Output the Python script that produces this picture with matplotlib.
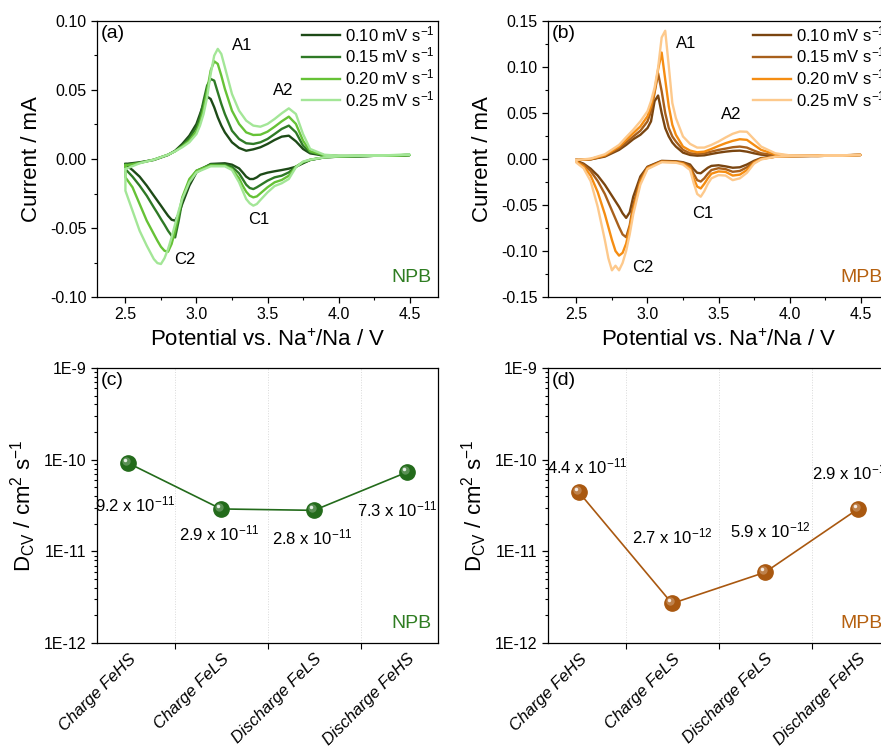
import numpy as np
import matplotlib
matplotlib.use("Agg")
import matplotlib.pyplot as plt
from matplotlib.ticker import FixedLocator, MultipleLocator, FormatStrFormatter, NullFormatter
from matplotlib.transforms import offset_copy

plt.rcParams['font.family'] = ['Liberation Sans', 'DejaVu Sans']
plt.rcParams['mathtext.fontset'] = 'custom'
plt.rcParams['mathtext.rm'] = 'Liberation Sans'
plt.rcParams['mathtext.it'] = 'Liberation Sans:italic'
plt.rcParams['mathtext.bf'] = 'Liberation Sans:bold'

# ---------------- data ----------------
rates = ['0.10', '0.15', '0.20', '0.25']

# anodic (forward) branch potentials, V
V_up = [2.5, 2.6, 2.7, 2.8, 2.85, 2.9, 2.95, 3.0, 3.025, 3.05, 3.075, 3.1, 3.125, 3.15, 3.175,
        3.2, 3.25, 3.3, 3.35, 3.4, 3.45, 3.5, 3.55, 3.6, 3.65, 3.7, 3.75, 3.8, 3.9, 4.0, 4.2, 4.5]
# cathodic (reverse) branch potentials, V
V_dn = [4.5, 4.2, 4.0, 3.9, 3.8, 3.75, 3.7, 3.65, 3.6, 3.55, 3.5, 3.45, 3.425, 3.4, 3.375, 3.35,
        3.325, 3.3, 3.25, 3.2, 3.1, 3.0, 2.95, 2.9, 2.875, 2.85, 2.825, 2.8, 2.775, 2.75, 2.725,
        2.7, 2.65, 2.6, 2.55, 2.5]

# NPB currents (mA)
npb_up_010 = [-0.0036, -0.0024, -0.0007, 0.0029, 0.0060, 0.0109, 0.0169, 0.0254, 0.0326, 0.0399, 0.0452,
              0.0435, 0.0375, 0.0302, 0.0242, 0.0193, 0.0121, 0.0080, 0.0060, 0.0070, 0.0085, 0.0109,
              0.0138, 0.0162, 0.0169, 0.0128, 0.0073, 0.0041, 0.0024, 0.0019, 0.0022, 0.0029]
npb_up_015 = [-0.0041, -0.0027, -0.0005, 0.0031, 0.0058, 0.0097, 0.0152, 0.0230, 0.0302, 0.0423, 0.0532,
              0.0580, 0.0568, 0.0483, 0.0399, 0.0326, 0.0205, 0.0145, 0.0114, 0.0109, 0.0121, 0.0145,
              0.0181, 0.0218, 0.0242, 0.0193, 0.0097, 0.0048, 0.0027, 0.0022, 0.0022, 0.0029]
npb_up_020 = [-0.0048, -0.0029, -0.0005, 0.0031, 0.0056, 0.0092, 0.0133, 0.0201, 0.0266, 0.0363, 0.0495,
              0.0641, 0.0708, 0.0689, 0.0604, 0.0508, 0.0350, 0.0254, 0.0193, 0.0174, 0.0176, 0.0198,
              0.0234, 0.0273, 0.0307, 0.0254, 0.0133, 0.0056, 0.0027, 0.0022, 0.0022, 0.0029]
npb_up_025 = [-0.0073, -0.0031, -0.0005, 0.0031, 0.0056, 0.0085, 0.0121, 0.0181, 0.0242, 0.0326, 0.0447,
              0.0616, 0.0749, 0.0798, 0.0761, 0.0665, 0.0471, 0.0350, 0.0278, 0.0242, 0.0234, 0.0254,
              0.0290, 0.0331, 0.0367, 0.0326, 0.0181, 0.0073, 0.0031, 0.0024, 0.0024, 0.0031]
npb_dn_010 = [0.0029, 0.0022, 0.0017, 0.0012, -0.0007, -0.0031, -0.0056, -0.0070, -0.0080, -0.0089, -0.0099,
              -0.0114, -0.0133, -0.0145, -0.0145, -0.0128, -0.0097, -0.0068, -0.0041, -0.0031, -0.0036,
              -0.0097, -0.0193, -0.0326, -0.0399, -0.0447, -0.0440, -0.0411, -0.0375, -0.0338, -0.0302,
              -0.0266, -0.0193, -0.0128, -0.0080, -0.0041]
npb_dn_015 = [0.0029, 0.0022, 0.0017, 0.0012, -0.0007, -0.0027, -0.0056, -0.0097, -0.0121, -0.0133, -0.0157,
              -0.0189, -0.0205, -0.0218, -0.0210, -0.0186, -0.0145, -0.0104, -0.0056, -0.0041, -0.0039,
              -0.0085, -0.0157, -0.0302, -0.0447, -0.0568, -0.0556, -0.0520, -0.0476, -0.0435, -0.0392,
              -0.0351, -0.0266, -0.0193, -0.0128, -0.0073]
npb_dn_020 = [0.0029, 0.0024, 0.0019, 0.0012, -0.0005, -0.0022, -0.0056, -0.0121, -0.0152, -0.0169, -0.0205,
              -0.0249, -0.0271, -0.0278, -0.0266, -0.0237, -0.0193, -0.0140, -0.0073, -0.0048, -0.0046,
              -0.0085, -0.0145, -0.0278, -0.0399, -0.0520, -0.0616, -0.0672, -0.0665, -0.0636, -0.0592,
              -0.0544, -0.0447, -0.0326, -0.0205, -0.0133]
npb_dn_025 = [0.0031, 0.0024, 0.0019, 0.0012, -0.0005, -0.0019, -0.0060, -0.0145, -0.0176, -0.0196, -0.0242,
              -0.0297, -0.0326, -0.0338, -0.0321, -0.0290, -0.0230, -0.0169, -0.0080, -0.0053, -0.0053,
              -0.0097, -0.0169, -0.0290, -0.0375, -0.0471, -0.0568, -0.0653, -0.0719, -0.0761, -0.0754,
              -0.0725, -0.0628, -0.0520, -0.0375, -0.0230]

# MPB currents (mA)
mpb_up_010 = [-0.0011, -0.0004, 0.0026, 0.0099, 0.0153, 0.0215, 0.0263, 0.0336, 0.0409, 0.0628, 0.0690,
              0.0500, 0.0336, 0.0245, 0.0179, 0.0135, 0.0069, 0.0044, 0.0036, 0.0040, 0.0055, 0.0069,
              0.0080, 0.0088, 0.0091, 0.0080, 0.0062, 0.0047, 0.0036, 0.0033, 0.0033, 0.0044]
mpb_up_015 = [-0.0011, -0.0004, 0.0033, 0.0117, 0.0179, 0.0245, 0.0307, 0.0409, 0.0518, 0.0719, 0.0931,
              0.0737, 0.0500, 0.0336, 0.0245, 0.0190, 0.0099, 0.0062, 0.0055, 0.0062, 0.0080, 0.0099,
              0.0113, 0.0128, 0.0135, 0.0124, 0.0091, 0.0062, 0.0040, 0.0033, 0.0033, 0.0044]
mpb_up_020 = [-0.0011, 0.0000, 0.0040, 0.0135, 0.0208, 0.0281, 0.0354, 0.0464, 0.0573, 0.0737, 0.0974,
              0.1157, 0.0865, 0.0573, 0.0372, 0.0263, 0.0135, 0.0091, 0.0073, 0.0080, 0.0109, 0.0142,
              0.0172, 0.0197, 0.0215, 0.0208, 0.0153, 0.0099, 0.0051, 0.0036, 0.0033, 0.0044]
mpb_up_025 = [-0.0011, 0.0004, 0.0051, 0.0153, 0.0237, 0.0318, 0.0409, 0.0518, 0.0628, 0.0774, 0.0993,
              0.1321, 0.1394, 0.1010, 0.0609, 0.0445, 0.0245, 0.0164, 0.0124, 0.0124, 0.0153, 0.0190,
              0.0234, 0.0274, 0.0299, 0.0296, 0.0215, 0.0135, 0.0062, 0.0040, 0.0033, 0.0044]
mpb_dn_010 = [0.0044, 0.0036, 0.0030, 0.0025, 0.0010, -0.0020, -0.0060, -0.0090, -0.0095, -0.0080, -0.0068,
              -0.0075, -0.0095, -0.0125, -0.0155, -0.0150, -0.0110, -0.0060, -0.0035, -0.0025, -0.0020,
              -0.0084, -0.0190, -0.0410, -0.0580, -0.0640, -0.0590, -0.0520, -0.0460, -0.0400, -0.0340,
              -0.0280, -0.0180, -0.0105, -0.0050, -0.0020]
mpb_dn_015 = [0.0044, 0.0036, 0.0030, 0.0025, 0.0005, -0.0030, -0.0090, -0.0130, -0.0139, -0.0110, -0.0100,
              -0.0120, -0.0160, -0.0210, -0.0245, -0.0230, -0.0160, -0.0080, -0.0040, -0.0030, -0.0025,
              -0.0090, -0.0220, -0.0500, -0.0720, -0.0850, -0.0820, -0.0740, -0.0650, -0.0560, -0.0470,
              -0.0380, -0.0240, -0.0130, -0.0060, -0.0025]
mpb_dn_020 = [0.0044, 0.0036, 0.0030, 0.0025, 0.0000, -0.0040, -0.0120, -0.0170, -0.0180, -0.0140, -0.0135,
              -0.0160, -0.0210, -0.0270, -0.0320, -0.0300, -0.0210, -0.0100, -0.0050, -0.0035, -0.0030,
              -0.0100, -0.0250, -0.0550, -0.0750, -0.0920, -0.1020, -0.1050, -0.1000, -0.0880, -0.0740,
              -0.0600, -0.0360, -0.0180, -0.0080, -0.0030]
mpb_dn_025 = [0.0044, 0.0036, 0.0030, 0.0025, -0.0005, -0.0050, -0.0150, -0.0210, -0.0230, -0.0180, -0.0175,
              -0.0210, -0.0270, -0.0350, -0.0410, -0.0380, -0.0260, -0.0120, -0.0060, -0.0040, -0.0035,
              -0.0110, -0.0280, -0.0600, -0.0820, -0.1000, -0.1130, -0.1210, -0.1160, -0.1210, -0.1080,
              -0.0880, -0.0520, -0.0240, -0.0100, -0.0040]

npb_up = [npb_up_010, npb_up_015, npb_up_020, npb_up_025]
npb_dn = [npb_dn_010, npb_dn_015, npb_dn_020, npb_dn_025]
mpb_up = [mpb_up_010, mpb_up_015, mpb_up_020, mpb_up_025]
mpb_dn = [mpb_dn_010, mpb_dn_015, mpb_dn_020, mpb_dn_025]

# Diffusion coefficients
stages = ['Charge FeHS', 'Charge FeLS', 'Discharge FeLS', 'Discharge FeHS']
D_npb = [9.2e-11, 2.9e-11, 2.8e-11, 7.3e-11]
D_mpb = [4.4e-11, 2.7e-12, 5.9e-12, 2.9e-11]
D_npb_labels = ['9.2 x 10$^{-11}$', '2.9 x 10$^{-11}$', '2.8 x 10$^{-11}$', '7.3 x 10$^{-11}$']
D_mpb_labels = ['4.4 x 10$^{-11}$', '2.7 x 10$^{-12}$', '5.9 x 10$^{-12}$', '2.9 x 10$^{-11}$']

# ---------------- style ----------------
green_cols = ['#1d4a17', '#2f7a26', '#66c236', '#a3e697']
orange_cols = ['#7a4510', '#a8601c', '#f58d12', '#fdc98c']
npb_col = '#2f7d22'
mpb_col = '#b5600f'
npb_marker = '#236b1b'
mpb_marker = '#a95810'

W, H = 881, 749
fig = plt.figure(figsize=(W / 100, H / 100), dpi=100)

def frac(l, t, r, b):
    return [l / W, 1 - b / H, (r - l) / W, (b - t) / H]

ax_a = fig.add_axes(frac(97, 21, 438, 297))
ax_b = fig.add_axes(frac(548, 21, 889, 297))
ax_c = fig.add_axes(frac(97, 368, 438, 643))
ax_d = fig.add_axes(frac(548, 368, 889, 643))

TICK_FS = 11.5
LABEL_FS = 16

def style_cv(ax, ylim, ystep):
    ax.set_xlim(2.3, 4.7)
    ax.set_ylim(*ylim)
    ax.xaxis.set_major_locator(MultipleLocator(0.5))
    ax.xaxis.set_minor_locator(MultipleLocator(0.25))
    ax.yaxis.set_major_locator(MultipleLocator(ystep))
    ax.yaxis.set_minor_locator(MultipleLocator(ystep / 2))
    ax.xaxis.set_major_formatter(FormatStrFormatter('%.1f'))
    ax.yaxis.set_major_formatter(FormatStrFormatter('%.2f'))
    ax.tick_params(which='both', direction='out', top=False, right=False, labelsize=TICK_FS)
    ax.tick_params(which='major', length=4, width=0.9)
    ax.tick_params(which='minor', length=2.5, width=0.8)
    ax.set_xlabel('Potential vs. Na$^{+}$/Na / V', fontsize=LABEL_FS, labelpad=5)
    ax.set_ylabel('Current / mA', fontsize=LABEL_FS, labelpad=6)
    for s in ax.spines.values():
        s.set_linewidth(0.9)

def plot_cv(ax, ups, dns, cols):
    for r, up, dn, c in zip(rates, ups, dns, cols):
        v = list(V_up) + list(V_dn) + [V_up[0]]
        i = list(up) + list(dn) + [up[0]]
        ax.plot(v, i, color=c, lw=1.7, label=r + ' mV s$^{-1}$', solid_joinstyle='round')

plot_cv(ax_a, npb_up, npb_dn, green_cols)
style_cv(ax_a, (-0.10, 0.10), 0.05)
plot_cv(ax_b, mpb_up, mpb_dn, orange_cols)
style_cv(ax_b, (-0.15, 0.15), 0.05)

for ax, tag in ((ax_a, '(a)'), (ax_b, '(b)'), (ax_c, '(c)'), (ax_d, '(d)')):
    ax.text(0.012, 0.985, tag, transform=ax.transAxes, fontsize=14, va='top', ha='left')

leg_kw = dict(loc='upper right', frameon=False, fontsize=12, handlelength=2.3,
              handletextpad=0.3, labelspacing=0.1, borderaxespad=0.1, borderpad=0.1)
ax_a.legend(**leg_kw)
ax_b.legend(**leg_kw)

pk = dict(fontsize=12, ha='center', va='center')
ax_a.text(3.32, 0.082, 'A1', **pk)
ax_a.text(3.61, 0.0496, 'A2', **pk)
ax_a.text(3.435, -0.0435, 'C1', **pk)
ax_a.text(2.92, -0.0725, 'C2', **pk)
ax_b.text(3.275, 0.125, 'A1', **pk)
ax_b.text(3.59, 0.048, 'A2', **pk)
ax_b.text(3.39, -0.0595, 'C1', **pk)
ax_b.text(2.97, -0.118, 'C2', **pk)

ax_a.text(0.98, 0.04, 'NPB', transform=ax_a.transAxes, fontsize=14, color=npb_col, ha='right', va='bottom')
ax_b.text(0.98, 0.04, 'MPB', transform=ax_b.transAxes, fontsize=14, color=mpb_col, ha='right', va='bottom')

# ---------------- diffusion panels ----------------
def sphere(ax, x, y, col):
    ax.plot(x, y, 'o', ms=11, color=col, mec=col, zorder=3)
    hl = offset_copy(ax.transData, fig=fig, x=-1.6, y=1.6, units='points')
    ax.plot(x, y, 'o', ms=6, color='white', alpha=0.25, mec='none', transform=hl, zorder=4)
    hl2 = offset_copy(ax.transData, fig=fig, x=-2.2, y=2.2, units='points')
    ax.plot(x, y, 'o', ms=2.5, color='white', alpha=0.85, mec='none', transform=hl2, zorder=5)

def style_d(ax):
    ax.set_yscale('log')
    ax.set_ylim(1e-12, 1e-9)
    ax.set_xlim(-1 / 3, 3 + 1 / 3)
    ax.yaxis.set_major_locator(FixedLocator([1e-12, 1e-11, 1e-10, 1e-9]))
    ax.set_yticklabels(['1E-12', '1E-11', '1E-10', '1E-9'])
    minors = [m * 10.0 ** e for e in (-12, -11, -10) for m in range(2, 10)]
    ax.yaxis.set_minor_locator(FixedLocator(minors))
    ax.yaxis.set_minor_formatter(NullFormatter())
    ax.set_xticks(range(len(stages)))
    ax.set_xticklabels(stages, rotation=45, ha='right', rotation_mode='anchor',
                       fontsize=12, style='italic')
    ax.xaxis.set_minor_locator(FixedLocator([0.5, 1.5, 2.5]))
    ax.tick_params(axis='x', which='major', length=0, pad=6)
    ax.tick_params(axis='x', which='minor', length=4, width=0.8, direction='out')
    ax.tick_params(axis='y', which='major', length=4, width=0.9, direction='out', labelsize=TICK_FS)
    ax.tick_params(axis='y', which='minor', length=2.5, width=0.8, direction='out')
    ax.tick_params(which='both', top=False, right=False)
    ax.grid(True, axis='x', which='minor', color='#d9d9d9', lw=0.7, ls=':')
    ax.set_ylabel('D$_{\\mathrm{CV}}$ / cm$^{2}$ s$^{-1}$', fontsize=LABEL_FS, labelpad=4)
    for s in ax.spines.values():
        s.set_linewidth(0.9)

xs = list(range(len(stages)))
ax_c.plot(xs, D_npb, '-', color=npb_marker, lw=1.2, zorder=2)
sphere(ax_c, xs, D_npb, npb_marker)
ax_d.plot(xs, D_mpb, '-', color=mpb_marker, lw=1.2, zorder=2)
sphere(ax_d, xs, D_mpb, mpb_marker)
style_d(ax_c)
style_d(ax_d)

off_c = [(5, -30), (-1.5, -18), (-1.5, -19.5), (-7, -27)]
off_d = [(6, 19), (0, 48), (4, 30), (-4, 26)]
for x, y, lab, o in zip(xs, D_npb, D_npb_labels, off_c):
    ax_c.annotate(lab, (x, y), xytext=o, textcoords='offset points', ha='center', va='center', fontsize=12)
for x, y, lab, o in zip(xs, D_mpb, D_mpb_labels, off_d):
    ax_d.annotate(lab, (x, y), xytext=o, textcoords='offset points', ha='center', va='center', fontsize=12)

ax_c.text(0.98, 0.04, 'NPB', transform=ax_c.transAxes, fontsize=14, color=npb_col, ha='right', va='bottom')
ax_d.text(0.98, 0.04, 'MPB', transform=ax_d.transAxes, fontsize=14, color=mpb_col, ha='right', va='bottom')

fig.savefig('out.png', dpi=100)
